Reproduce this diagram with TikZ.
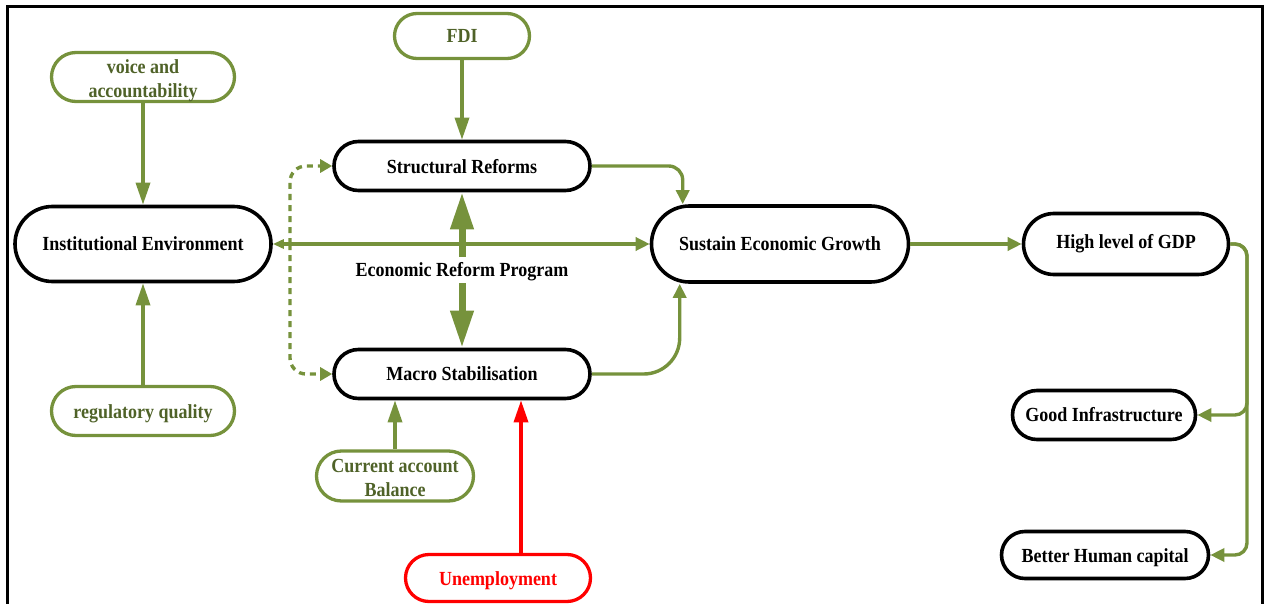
\documentclass[tikz,border=0pt]{standalone}
\usepackage{fontspec}
\setmainfont[FakeStretch=0.9]{Liberation Serif}
\usetikzlibrary{arrows.meta,calc}
\definecolor{leaf}{HTML}{76923C}
\definecolor{leafdark}{HTML}{4F6228}
\definecolor{alarm}{HTML}{FF0000}
% move a label down by #1 inside its box
\newcommand{\nudge}[2]{\raisebox{0pt}[\dimexpr\height+#1\relax][\dimexpr\depth-#1\relax]{#2}}
% two-line label
\newcommand{\twolines}[2]{\begin{tabular}{@{}c@{}}#1\\#2\end{tabular}}

\begin{document}
\begin{tikzpicture}[x=1pt,y=-1pt,
  stad/.style n args={3}{minimum width=#1pt, minimum height=#2pt, rounded corners=#3pt},
  boxbase/.style={draw, align=center, inner sep=0pt,
    font=\bfseries\fontsize{20}{24}\selectfont},
  blk/.style={boxbase, line width=3.6pt, text=black},
  grn/.style={boxbase, draw=leaf, line width=3.3pt, text=leafdark},
  redbox/.style={boxbase, draw=alarm, line width=3.3pt, text=alarm},
  conn/.style={draw=leaf, line width=3.4pt},
  redconn/.style={draw=alarm, line width=3.4pt},
  inarr/.style={-{Triangle[length=22pt,width=14pt]}},
  conarr/.style={-{Triangle[length=14pt,width=13pt]}}
]
\useasboundingbox (0,0) rectangle (1268,604);

% outer frame
\draw[line width=3pt] (7.5,610) -- (7.5,6.5) -- (1262,6.5) -- (1262,610);

% nodes
\node[grn, stad={183}{49}{24.5}] (voice) at (143,77) {\nudge{3.5pt}{\twolines{voice and}{accountability}}};
\node[blk, stad={256}{75}{37.5}] (inst) at (143,244) {Institutional Environment};
\node[grn, stad={183}{49}{24.5}] (reg) at (143,411) {\nudge{3pt}{regulatory quality}};
\node[grn, stad={135}{45}{22.5}] (fdi) at (462,36) {FDI};
\node[blk, stad={256}{49}{24.5}] (struct) at (462,166) {\nudge{1.5pt}{Structural Reforms}};
\node[blk, stad={256}{49}{24.5}] (macro) at (462,374) {Macro Stabilisation};
\node[grn, stad={157}{50}{25}] (cab) at (395,476) {\nudge{4pt}{\twolines{Current account}{Balance}}};
\node[redbox, stad={185}{47}{23.5}] (unemp) at (498,578) {\nudge{3pt}{Unemployment}};
\node[blk, stad={257}{76}{38}] (sust) at (780,244) {Sustain Economic Growth};
\node[blk, stad={205}{61}{30.5}] (gdp) at (1126,244) {High level of GDP};
\node[blk, stad={183}{49}{24.5}] (infra) at (1104,415) {Good Infrastructure};
\node[blk, stad={207}{47}{23.5}] (human) at (1105,555) {\nudge{3pt}{Better Human capital}};

% inputs
\draw[conn, inarr] (voice) -- (inst);
\draw[conn, inarr] (reg) -- (inst);
\draw[conn, inarr] (fdi) -- (struct);
\draw[conn, inarr] (cab) -- (cab.north |- macro.south);
\draw[redconn, inarr] ([xshift=23pt]unemp.north) -- ([xshift=23pt]unemp.north |- macro.south);

% institutional link
\draw[conn, {Triangle[length=11pt,width=9pt]}-{Triangle[length=14pt,width=13pt]}] (inst) -- (sust);
\coordinate (jn) at (290,244);
\draw[conn, dash pattern=on 6pt off 5pt, rounded corners=16pt, -{Triangle[length=12pt,width=13pt]}] (jn) |- (struct.west);
\draw[conn, dash pattern=on 6pt off 5pt, rounded corners=16pt, -{Triangle[length=12pt,width=13pt]}] (jn) |- (macro.west);

% reform programme
\draw[leaf, line width=7pt, {Triangle[length=37pt,width=22pt]}-{Triangle[length=37pt,width=22pt]}] (struct) -- (macro);
\node[fill=white, inner sep=2pt, minimum height=26pt, font=\bfseries\fontsize{20}{24}\selectfont] (erp) at (462,270) {\nudge{2pt}{Economic Reform Program}};

% growth
\draw[conn, conarr, rounded corners=14pt] (struct.east) -| ([xshift=33pt]sust.north west);
\draw[conn, conarr, rounded corners=36pt] (macro.east) -| ([xshift=30pt]sust.south west);
\draw[conn, conarr] (sust) -- (gdp);

% outcomes
\coordinate (split) at (1247,244);
\draw[conn, conarr, rounded corners=12pt] (gdp.east) -- (split) |- (infra.east);
\draw[conn, conarr, rounded corners=12pt] (gdp.east) -- (split) |- (human.east);
\end{tikzpicture}
\end{document}
